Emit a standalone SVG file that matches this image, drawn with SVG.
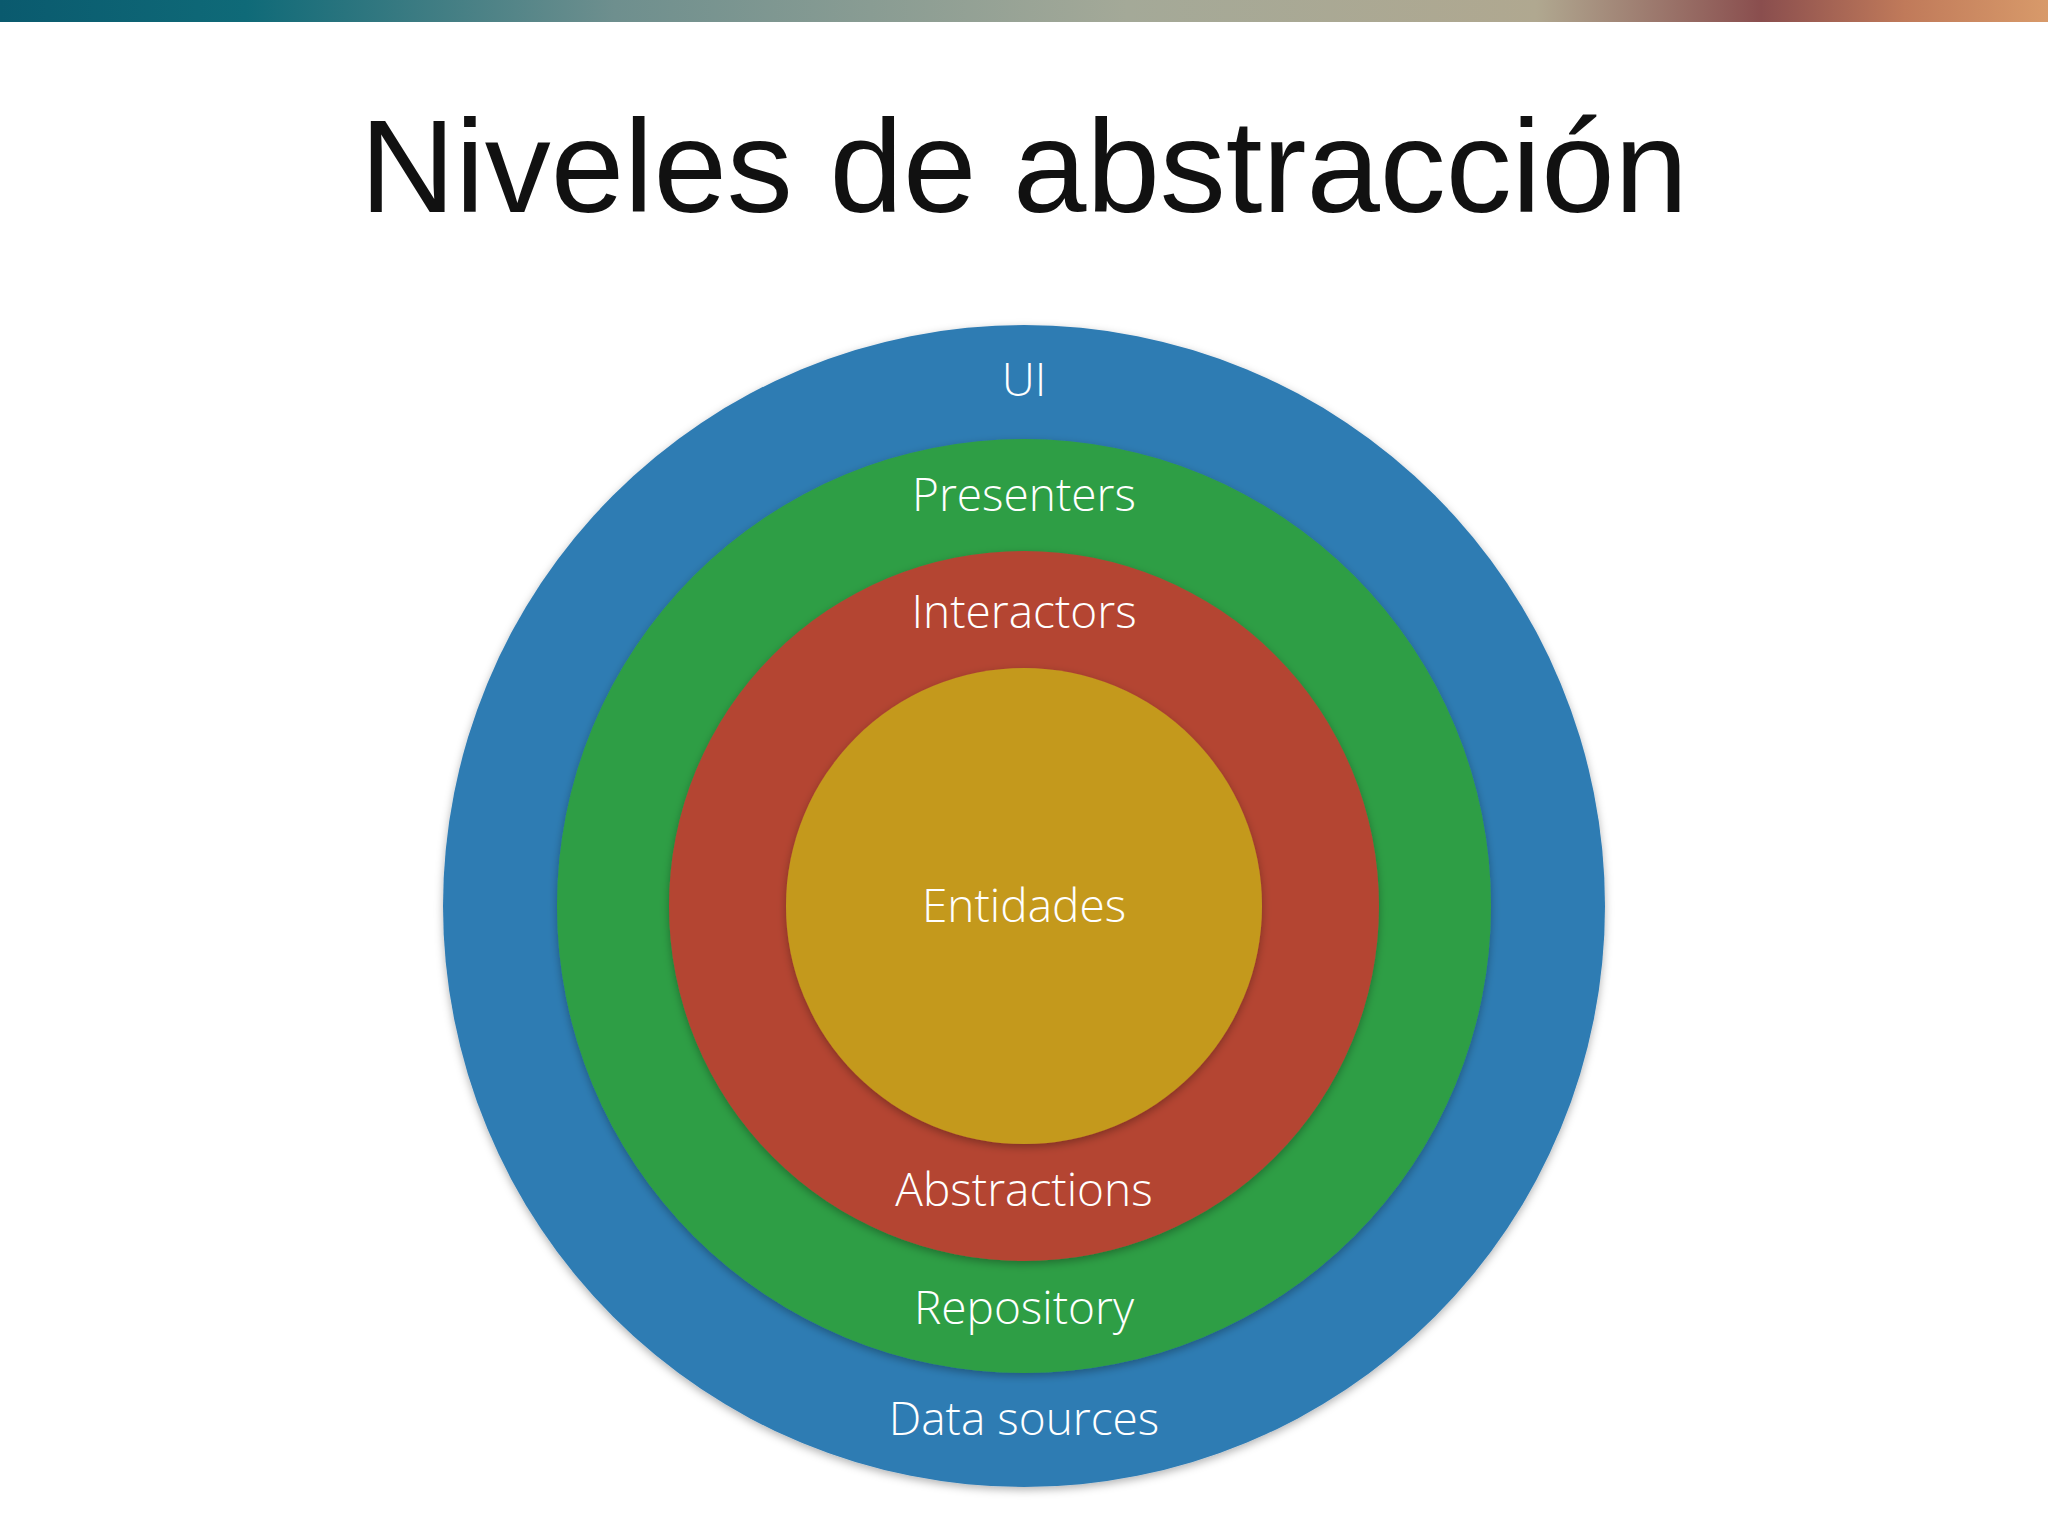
<svg xmlns="http://www.w3.org/2000/svg" width="2048" height="1536" viewBox="0 0 2048 1536">
<defs>
<linearGradient id="bar" x1="0" y1="0" x2="1" y2="0">
<stop offset="0" stop-color="#0a5a6e"/>
<stop offset="0.12" stop-color="#0f6a78"/>
<stop offset="0.3" stop-color="#6e8f8e"/>
<stop offset="0.55" stop-color="#a4a998"/>
<stop offset="0.75" stop-color="#b0a890"/>
<stop offset="0.86" stop-color="#8a4e4e"/>
<stop offset="0.93" stop-color="#c07a5a"/>
<stop offset="1" stop-color="#d89a6a"/>
</linearGradient>
<filter id="sh" x="-10%" y="-10%" width="120%" height="120%">
<feDropShadow dx="0" dy="3" stdDeviation="4" flood-opacity="0.3"/>
</filter>
</defs>
<style>
.lbl{font-family:"Open Sans","Liberation Sans",sans-serif;font-size:46px;fill:#ffffff;text-anchor:middle;font-weight:300}
.title{font-family:"Liberation Sans",Arial,sans-serif;font-size:132px;fill:#111;text-anchor:middle}
</style>
<rect width="2048" height="1536" fill="#ffffff"/>
<rect x="0" y="0" width="2048" height="22" fill="url(#bar)"/>
<text class="title" x="1024" y="212">Niveles de abstracción</text>
<g id="ui"><circle cx="1024" cy="906" r="581" fill="#2f7bb3" filter="url(#sh)"/><text class="lbl" x="1024" y="396">UI</text><text class="lbl" x="1024" y="1435">Data sources</text></g>
<g id="presenters"><circle cx="1024" cy="906" r="467" fill="#2f9e44" filter="url(#sh)"/><text class="lbl" x="1024" y="511">Presenters</text><text class="lbl" x="1024" y="1324">Repository</text></g>
<g id="interactors"><circle cx="1024" cy="906" r="355" fill="#b44433" filter="url(#sh)"/><text class="lbl" x="1024" y="628">Interactors</text><text class="lbl" x="1024" y="1206">Abstractions</text></g>
<g id="entidades"><circle cx="1024" cy="906" r="238" fill="#c4991e" filter="url(#sh)"/><text class="lbl" x="1024" y="922">Entidades</text></g>
<g id="connectors"/>
</svg>
